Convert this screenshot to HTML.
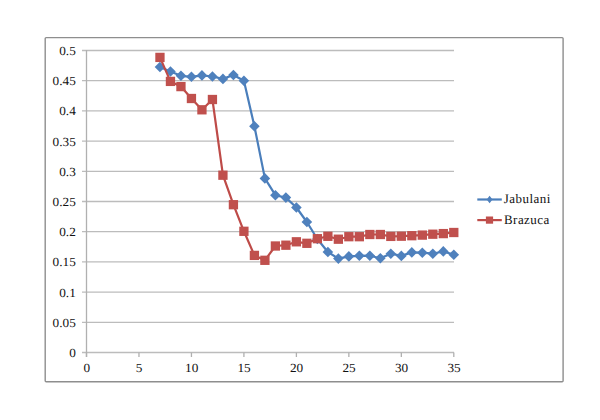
<!DOCTYPE html>
<html><head><meta charset="utf-8"><style>
html,body{margin:0;padding:0;background:#fff;}
body{width:600px;height:420px;overflow:hidden;}
svg{display:block;text-rendering:geometricPrecision;}
.t{font-family:"Liberation Serif", serif;font-size:12.4px;fill:#111;}
.l{font-family:"Liberation Serif", serif;font-size:13px;fill:#111;letter-spacing:0.45px;}
</style></head><body>
<svg width="600" height="420" viewBox="0 0 600 420">
<rect x="0" y="0" width="600" height="420" fill="#fff"/>
<rect x="45.2" y="37.6" width="517.9" height="344.2" rx="1" fill="#fff" stroke="#8e8e8e" stroke-width="1.4"/>
<line x1="82" y1="50.48" x2="454" y2="50.48" stroke="#bcbcbc" stroke-width="1.3"/>
<line x1="82" y1="80.68" x2="454" y2="80.68" stroke="#bcbcbc" stroke-width="1.3"/>
<line x1="82" y1="110.89" x2="454" y2="110.89" stroke="#bcbcbc" stroke-width="1.3"/>
<line x1="82" y1="141.09" x2="454" y2="141.09" stroke="#bcbcbc" stroke-width="1.3"/>
<line x1="82" y1="171.3" x2="454" y2="171.3" stroke="#bcbcbc" stroke-width="1.3"/>
<line x1="82" y1="201.5" x2="454" y2="201.5" stroke="#bcbcbc" stroke-width="1.3"/>
<line x1="82" y1="231.7" x2="454" y2="231.7" stroke="#bcbcbc" stroke-width="1.3"/>
<line x1="82" y1="261.91" x2="454" y2="261.91" stroke="#bcbcbc" stroke-width="1.3"/>
<line x1="82" y1="292.11" x2="454" y2="292.11" stroke="#bcbcbc" stroke-width="1.3"/>
<line x1="82" y1="322.32" x2="454" y2="322.32" stroke="#bcbcbc" stroke-width="1.3"/>
<line x1="82" y1="352.52" x2="454" y2="352.52" stroke="#bcbcbc" stroke-width="1.3"/>
<line x1="86.5" y1="49.98" x2="86.5" y2="357" stroke="#b0b0b0" stroke-width="1.3"/>
<line x1="86.5" y1="352.52" x2="86.5" y2="357" stroke="#b0b0b0" stroke-width="1.3"/>
<line x1="138.97" y1="352.52" x2="138.97" y2="357" stroke="#b0b0b0" stroke-width="1.3"/>
<line x1="191.44" y1="352.52" x2="191.44" y2="357" stroke="#b0b0b0" stroke-width="1.3"/>
<line x1="243.91" y1="352.52" x2="243.91" y2="357" stroke="#b0b0b0" stroke-width="1.3"/>
<line x1="296.39" y1="352.52" x2="296.39" y2="357" stroke="#b0b0b0" stroke-width="1.3"/>
<line x1="348.86" y1="352.52" x2="348.86" y2="357" stroke="#b0b0b0" stroke-width="1.3"/>
<line x1="401.33" y1="352.52" x2="401.33" y2="357" stroke="#b0b0b0" stroke-width="1.3"/>
<line x1="453.8" y1="352.52" x2="453.8" y2="357" stroke="#b0b0b0" stroke-width="1.3"/>
<text transform="translate(75.8 54.98) scale(1.07 1)" text-anchor="end" class="t">0.5</text>
<text transform="translate(75.8 85.18) scale(1.07 1)" text-anchor="end" class="t">0.45</text>
<text transform="translate(75.8 115.39) scale(1.07 1)" text-anchor="end" class="t">0.4</text>
<text transform="translate(75.8 145.59) scale(1.07 1)" text-anchor="end" class="t">0.35</text>
<text transform="translate(75.8 175.80) scale(1.07 1)" text-anchor="end" class="t">0.3</text>
<text transform="translate(75.8 206.00) scale(1.07 1)" text-anchor="end" class="t">0.25</text>
<text transform="translate(75.8 236.20) scale(1.07 1)" text-anchor="end" class="t">0.2</text>
<text transform="translate(75.8 266.41) scale(1.07 1)" text-anchor="end" class="t">0.15</text>
<text transform="translate(75.8 296.61) scale(1.07 1)" text-anchor="end" class="t">0.1</text>
<text transform="translate(75.8 326.82) scale(1.07 1)" text-anchor="end" class="t">0.05</text>
<text transform="translate(75.8 357.02) scale(1.07 1)" text-anchor="end" class="t">0</text>
<text transform="translate(86.70 372.2) scale(1.07 1)" text-anchor="middle" class="t">0</text>
<text transform="translate(139.17 372.2) scale(1.07 1)" text-anchor="middle" class="t">5</text>
<text transform="translate(191.64 372.2) scale(1.07 1)" text-anchor="middle" class="t">10</text>
<text transform="translate(244.11 372.2) scale(1.07 1)" text-anchor="middle" class="t">15</text>
<text transform="translate(296.59 372.2) scale(1.07 1)" text-anchor="middle" class="t">20</text>
<text transform="translate(349.06 372.2) scale(1.07 1)" text-anchor="middle" class="t">25</text>
<text transform="translate(401.53 372.2) scale(1.07 1)" text-anchor="middle" class="t">30</text>
<text transform="translate(454.00 372.2) scale(1.07 1)" text-anchor="middle" class="t">35</text>
<polyline points="159.96,67.00 170.45,71.50 180.95,75.80 191.44,76.80 201.94,75.40 212.43,76.50 222.93,78.90 233.42,75.00 243.91,80.80 254.41,126.30 264.90,178.40 275.40,195.20 285.89,197.60 296.39,207.50 306.88,222.00 317.37,239.00 327.87,252.00 338.36,258.60 348.86,256.40 359.35,255.80 369.85,255.70 380.34,258.20 390.83,253.70 401.33,255.90 411.82,252.40 422.32,252.70 432.81,253.70 443.31,251.40 453.80,254.80" fill="none" stroke="#4a7ebb" stroke-width="2.2" stroke-linejoin="round" stroke-linecap="round"/>
<path d="M159.96,61.70L165.26,67.00L159.96,72.30L154.66,67.00Z" fill="#4f81bd"/>
<path d="M170.45,66.20L175.75,71.50L170.45,76.80L165.15,71.50Z" fill="#4f81bd"/>
<path d="M180.95,70.50L186.25,75.80L180.95,81.10L175.65,75.80Z" fill="#4f81bd"/>
<path d="M191.44,71.50L196.74,76.80L191.44,82.10L186.14,76.80Z" fill="#4f81bd"/>
<path d="M201.94,70.10L207.24,75.40L201.94,80.70L196.64,75.40Z" fill="#4f81bd"/>
<path d="M212.43,71.20L217.73,76.50L212.43,81.80L207.13,76.50Z" fill="#4f81bd"/>
<path d="M222.93,73.60L228.23,78.90L222.93,84.20L217.63,78.90Z" fill="#4f81bd"/>
<path d="M233.42,69.70L238.72,75.00L233.42,80.30L228.12,75.00Z" fill="#4f81bd"/>
<path d="M243.91,75.50L249.21,80.80L243.91,86.10L238.61,80.80Z" fill="#4f81bd"/>
<path d="M254.41,121.00L259.71,126.30L254.41,131.60L249.11,126.30Z" fill="#4f81bd"/>
<path d="M264.90,173.10L270.20,178.40L264.90,183.70L259.60,178.40Z" fill="#4f81bd"/>
<path d="M275.40,189.90L280.70,195.20L275.40,200.50L270.10,195.20Z" fill="#4f81bd"/>
<path d="M285.89,192.30L291.19,197.60L285.89,202.90L280.59,197.60Z" fill="#4f81bd"/>
<path d="M296.39,202.20L301.69,207.50L296.39,212.80L291.09,207.50Z" fill="#4f81bd"/>
<path d="M306.88,216.70L312.18,222.00L306.88,227.30L301.58,222.00Z" fill="#4f81bd"/>
<path d="M317.37,233.70L322.67,239.00L317.37,244.30L312.07,239.00Z" fill="#4f81bd"/>
<path d="M327.87,246.70L333.17,252.00L327.87,257.30L322.57,252.00Z" fill="#4f81bd"/>
<path d="M338.36,253.30L343.66,258.60L338.36,263.90L333.06,258.60Z" fill="#4f81bd"/>
<path d="M348.86,251.10L354.16,256.40L348.86,261.70L343.56,256.40Z" fill="#4f81bd"/>
<path d="M359.35,250.50L364.65,255.80L359.35,261.10L354.05,255.80Z" fill="#4f81bd"/>
<path d="M369.85,250.40L375.15,255.70L369.85,261.00L364.55,255.70Z" fill="#4f81bd"/>
<path d="M380.34,252.90L385.64,258.20L380.34,263.50L375.04,258.20Z" fill="#4f81bd"/>
<path d="M390.83,248.40L396.13,253.70L390.83,259.00L385.53,253.70Z" fill="#4f81bd"/>
<path d="M401.33,250.60L406.63,255.90L401.33,261.20L396.03,255.90Z" fill="#4f81bd"/>
<path d="M411.82,247.10L417.12,252.40L411.82,257.70L406.52,252.40Z" fill="#4f81bd"/>
<path d="M422.32,247.40L427.62,252.70L422.32,258.00L417.02,252.70Z" fill="#4f81bd"/>
<path d="M432.81,248.40L438.11,253.70L432.81,259.00L427.51,253.70Z" fill="#4f81bd"/>
<path d="M443.31,246.10L448.61,251.40L443.31,256.70L438.01,251.40Z" fill="#4f81bd"/>
<path d="M453.80,249.50L459.10,254.80L453.80,260.10L448.50,254.80Z" fill="#4f81bd"/>
<polyline points="159.96,57.40 170.45,81.40 180.95,86.60 191.44,98.50 201.94,109.80 212.43,99.50 222.93,175.20 233.42,204.70 243.91,231.30 254.41,255.40 264.90,260.30 275.40,246.00 285.89,245.20 296.39,241.80 306.88,243.30 317.37,238.70 327.87,236.30 338.36,239.20 348.86,236.70 359.35,236.70 369.85,234.50 380.34,234.50 390.83,236.40 401.33,236.20 411.82,235.70 422.32,235.10 432.81,234.20 443.31,233.60 453.80,232.50" fill="none" stroke="#be4b48" stroke-width="2.2" stroke-linejoin="round" stroke-linecap="round"/>
<rect x="155.31" y="52.75" width="9.30" height="9.30" fill="#c0504d"/>
<rect x="165.80" y="76.75" width="9.30" height="9.30" fill="#c0504d"/>
<rect x="176.30" y="81.95" width="9.30" height="9.30" fill="#c0504d"/>
<rect x="186.79" y="93.85" width="9.30" height="9.30" fill="#c0504d"/>
<rect x="197.29" y="105.15" width="9.30" height="9.30" fill="#c0504d"/>
<rect x="207.78" y="94.85" width="9.30" height="9.30" fill="#c0504d"/>
<rect x="218.28" y="170.55" width="9.30" height="9.30" fill="#c0504d"/>
<rect x="228.77" y="200.05" width="9.30" height="9.30" fill="#c0504d"/>
<rect x="239.26" y="226.65" width="9.30" height="9.30" fill="#c0504d"/>
<rect x="249.76" y="250.75" width="9.30" height="9.30" fill="#c0504d"/>
<rect x="260.25" y="255.65" width="9.30" height="9.30" fill="#c0504d"/>
<rect x="270.75" y="241.35" width="9.30" height="9.30" fill="#c0504d"/>
<rect x="281.24" y="240.55" width="9.30" height="9.30" fill="#c0504d"/>
<rect x="291.74" y="237.15" width="9.30" height="9.30" fill="#c0504d"/>
<rect x="302.23" y="238.65" width="9.30" height="9.30" fill="#c0504d"/>
<rect x="312.72" y="234.05" width="9.30" height="9.30" fill="#c0504d"/>
<rect x="323.22" y="231.65" width="9.30" height="9.30" fill="#c0504d"/>
<rect x="333.71" y="234.55" width="9.30" height="9.30" fill="#c0504d"/>
<rect x="344.21" y="232.05" width="9.30" height="9.30" fill="#c0504d"/>
<rect x="354.70" y="232.05" width="9.30" height="9.30" fill="#c0504d"/>
<rect x="365.20" y="229.85" width="9.30" height="9.30" fill="#c0504d"/>
<rect x="375.69" y="229.85" width="9.30" height="9.30" fill="#c0504d"/>
<rect x="386.18" y="231.75" width="9.30" height="9.30" fill="#c0504d"/>
<rect x="396.68" y="231.55" width="9.30" height="9.30" fill="#c0504d"/>
<rect x="407.17" y="231.05" width="9.30" height="9.30" fill="#c0504d"/>
<rect x="417.67" y="230.45" width="9.30" height="9.30" fill="#c0504d"/>
<rect x="428.16" y="229.55" width="9.30" height="9.30" fill="#c0504d"/>
<rect x="438.66" y="228.95" width="9.30" height="9.30" fill="#c0504d"/>
<rect x="449.15" y="227.85" width="9.30" height="9.30" fill="#c0504d"/>
<line x1="477.3" y1="199.5" x2="501.8" y2="199.5" stroke="#4a7ebb" stroke-width="2.2"/>
<path d="M489.6,195.8L492.5,199.5L489.6,203.2L486.7,199.5Z" fill="#4f81bd"/>
<text x="503.8" y="203.4" class="l">Jabulani</text>
<line x1="477.3" y1="220.1" x2="501.8" y2="220.1" stroke="#be4b48" stroke-width="2.2"/>
<rect x="485.90" y="216.50" width="7.20" height="7.20" fill="#c0504d"/>
<text x="504" y="224.4" class="l">Brazuca</text>
</svg>
</body></html>
